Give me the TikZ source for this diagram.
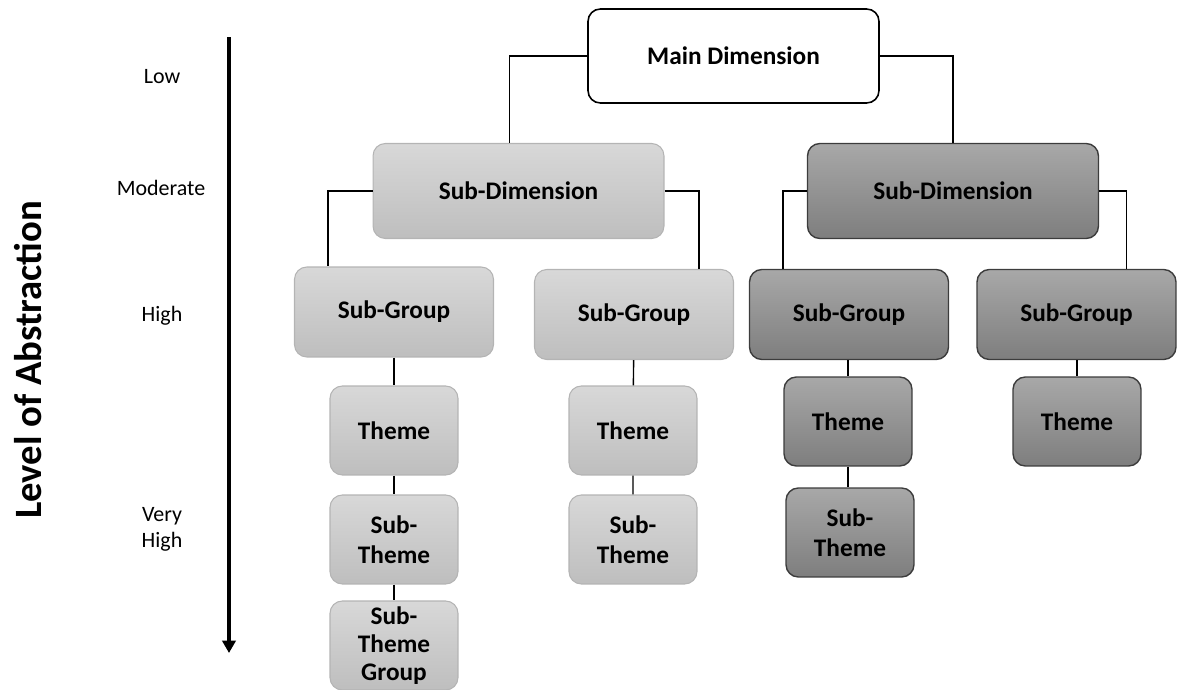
\documentclass[tikz,border=0pt]{standalone}
\usepackage{fontspec}
\setmainfont{Carlito}
\usetikzlibrary{arrows.meta}

\definecolor{lighttop}{HTML}{D8D8D8}
\definecolor{lightbot}{HTML}{BEBEBE}
\definecolor{lightedge}{HTML}{B4B4B4}
\definecolor{darktop}{HTML}{A8A8A8}
\definecolor{darkbot}{HTML}{7E7E7E}
\definecolor{darkedge}{HTML}{3C3C3C}

\begin{document}
\begin{tikzpicture}[x=0.02cm, y=-0.02cm,
    box/.style={rounded corners=7pt, align=center, inner sep=0pt,
        font=\fontsize{14.4}{16.8}\selectfont\bfseries},
    mainbox/.style={box, draw=black, line width=0.9pt, fill=white,
        minimum width=5.82cm, minimum height=1.88cm},
    lightbox/.style={box, draw=lightedge, line width=0.6pt,
        top color=lighttop, bottom color=lightbot},
    darkbox/.style={box, draw=darkedge, line width=0.8pt,
        top color=darktop, bottom color=darkbot},
    dimsize/.style={minimum width=5.82cm, minimum height=1.9cm},
    groupsize/.style={minimum width=3.98cm, minimum height=1.8cm},
    themesize/.style={minimum width=2.56cm, minimum height=1.78cm},
    link/.style={line width=0.8pt},
    level/.style={font=\fontsize{12.5}{14.8}\selectfont, align=center},
    abstraction/.style={line width=2.3pt, -{Triangle[width=7.5pt,length=7pt]}}]

    % Page size
    \useasboundingbox (0,0) rectangle (1178,690);

    % Abstraction scale on the left
    \node[rotate=90, font=\fontsize{22}{26}\selectfont\bfseries] (axis) at (28,360) {Level of Abstraction};
    \coordinate (abtop) at (229,37);
    \coordinate (abbot) at (229,653);
    \draw[abstraction] (abtop) -- (abbot);
    \node[level] (low) at (162,77) {Low};
    \node[level] (moderate) at (161,188) {Moderate};
    \node[level] (high) at (162,316) {High};
    \node[level] (veryhigh) at (162,529) {Very\\High};

    % Top of the tree
    \node[mainbox] (main) at (733.5,56) {Main Dimension};

    % Sub-dimensions
    \node[lightbox, dimsize] (sdl) at (518.5,191) {Sub-Dimension};
    \node[darkbox, dimsize] (sdr) at (953,191) {Sub-Dimension};

    % Sub-groups
    \node[lightbox, groupsize] (sg1) at (394,312) {Sub-Group};
    \node[lightbox, groupsize] (sg2) at (634,314.5) {Sub-Group};
    \node[darkbox, groupsize] (sg3) at (849,314.5) {Sub-Group};
    \node[darkbox, groupsize] (sg4) at (1076.5,314.5) {Sub-Group};

    % Themes and sub-themes
    \node[lightbox, themesize] (th1) at (394,430.5) {Theme};
    \node[lightbox, themesize] (st1) at (394,539.5) {Sub-\\Theme};
    \node[lightbox, themesize, font=\fontsize{14.4}{16}\selectfont\bfseries] (stg1) at (394,645.5) {Sub-\\Theme\\Group};
    \node[lightbox, themesize] (th2) at (633,430.5) {Theme};
    \node[lightbox, themesize] (st2) at (633,539.5) {Sub-\\Theme};
    \node[darkbox, themesize] (th3) at (848,421.5) {Theme};
    \node[darkbox, themesize] (st3) at (850,532.5) {Sub-\\Theme};
    \node[darkbox, themesize] (th4) at (1077,421.5) {Theme};

    % Connectors
    \draw[link] (main.west) -| ([xshift=-0.18cm]sdl.north);
    \draw[link] (main.east) -| (sdr.north);
    \draw[link] (sdl.west) -| ([xshift=0.68cm]sg1.north west);
    \draw[link] (sdl.east) -| ([xshift=-0.7cm]sg2.north east);
    \draw[link] (sdr.west) -| ([xshift=0.68cm]sg3.north west);
    \draw[link] (sdr.east) -| ([xshift=-1cm]sg4.north east);
    \draw[link] (sg1) -- (th1) (th1) -- (st1) (st1) -- (stg1);
    \draw[link] (sg2) -- (th2) (th2) -- (st2);
    \draw[link] (sg3.south -| th3) -- (th3) (th3) -- (th3.south |- st3.north);
    \draw[link] (sg4.south -| th4) -- (th4);
\end{tikzpicture}
\end{document}
